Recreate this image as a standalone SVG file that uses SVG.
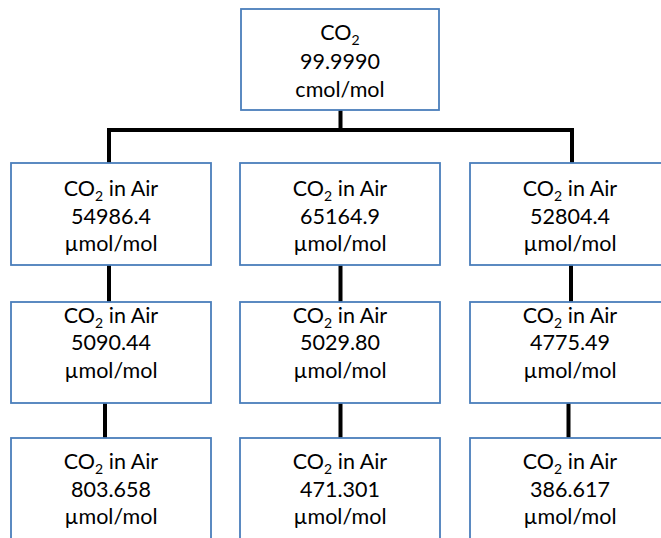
<svg xmlns="http://www.w3.org/2000/svg" width="661" height="538" viewBox="0 0 661 538">
<style>
.box{fill:#ffffff;stroke:#4a7ebb;stroke-width:1.8}
.lbl{font-family:Lato,"Open Sans",sans-serif;font-size:21.5px;fill:#000;text-anchor:middle}
.sub{font-size:14px}
.con{fill:none;stroke:#000;stroke-width:4;stroke-linejoin:miter}
</style>
<rect width="661" height="538" fill="#ffffff"/>
<g id="connectors">
<path class="con" d="M340.5,110V130M109,163V130H572V163"/>
<path class="con" d="M109,265V302M340.5,265V302M571,265V302"/>
<path class="con" d="M105,403V438M340.5,403V438M568.5,403V438"/>
</g>
<g id="n-top">
<rect class="box" x="241" y="9" width="198" height="101"/>
<text class="lbl" x="340" y="40">CO<tspan class="sub" baseline-shift="-5">2</tspan></text>
<text class="lbl" x="340" y="68.5">99.9990</text>
<text class="lbl" x="340" y="97">cmol/mol</text>
</g>
<g id="n-r1c1">
<rect class="box" x="11" y="163" width="200" height="102"/>
<text class="lbl" x="111" y="196">CO<tspan class="sub" baseline-shift="-5">2</tspan> in Air</text>
<text class="lbl" x="111" y="223.5">54986.4</text>
<text class="lbl" x="111" y="251">µmol/mol</text>
</g>
<g id="n-r1c2">
<rect class="box" x="240" y="163" width="200" height="102"/>
<text class="lbl" x="340" y="196">CO<tspan class="sub" baseline-shift="-5">2</tspan> in Air</text>
<text class="lbl" x="340" y="223.5">65164.9</text>
<text class="lbl" x="340" y="251">µmol/mol</text>
</g>
<g id="n-r1c3">
<rect class="box" x="470" y="163" width="200" height="102"/>
<text class="lbl" x="570" y="196">CO<tspan class="sub" baseline-shift="-5">2</tspan> in Air</text>
<text class="lbl" x="570" y="223.5">52804.4</text>
<text class="lbl" x="570" y="251">µmol/mol</text>
</g>
<g id="n-r2c1">
<rect class="box" x="11" y="302" width="200" height="101"/>
<text class="lbl" x="111" y="322.5">CO<tspan class="sub" baseline-shift="-5">2</tspan> in Air</text>
<text class="lbl" x="111" y="350">5090.44</text>
<text class="lbl" x="111" y="377.5">µmol/mol</text>
</g>
<g id="n-r2c2">
<rect class="box" x="240" y="302" width="200" height="101"/>
<text class="lbl" x="340" y="322.5">CO<tspan class="sub" baseline-shift="-5">2</tspan> in Air</text>
<text class="lbl" x="340" y="350">5029.80</text>
<text class="lbl" x="340" y="377.5">µmol/mol</text>
</g>
<g id="n-r2c3">
<rect class="box" x="470" y="302" width="200" height="101"/>
<text class="lbl" x="570" y="322.5">CO<tspan class="sub" baseline-shift="-5">2</tspan> in Air</text>
<text class="lbl" x="570" y="350">4775.49</text>
<text class="lbl" x="570" y="377.5">µmol/mol</text>
</g>
<g id="n-r3c1">
<rect class="box" x="11" y="438" width="200" height="110"/>
<text class="lbl" x="111" y="469">CO<tspan class="sub" baseline-shift="-5">2</tspan> in Air</text>
<text class="lbl" x="111" y="496.5">803.658</text>
<text class="lbl" x="111" y="524">µmol/mol</text>
</g>
<g id="n-r3c2">
<rect class="box" x="240" y="438" width="200" height="110"/>
<text class="lbl" x="340" y="469">CO<tspan class="sub" baseline-shift="-5">2</tspan> in Air</text>
<text class="lbl" x="340" y="496.5">471.301</text>
<text class="lbl" x="340" y="524">µmol/mol</text>
</g>
<g id="n-r3c3">
<rect class="box" x="470" y="438" width="200" height="110"/>
<text class="lbl" x="570" y="469">CO<tspan class="sub" baseline-shift="-5">2</tspan> in Air</text>
<text class="lbl" x="570" y="496.5">386.617</text>
<text class="lbl" x="570" y="524">µmol/mol</text>
</g>
</svg>
